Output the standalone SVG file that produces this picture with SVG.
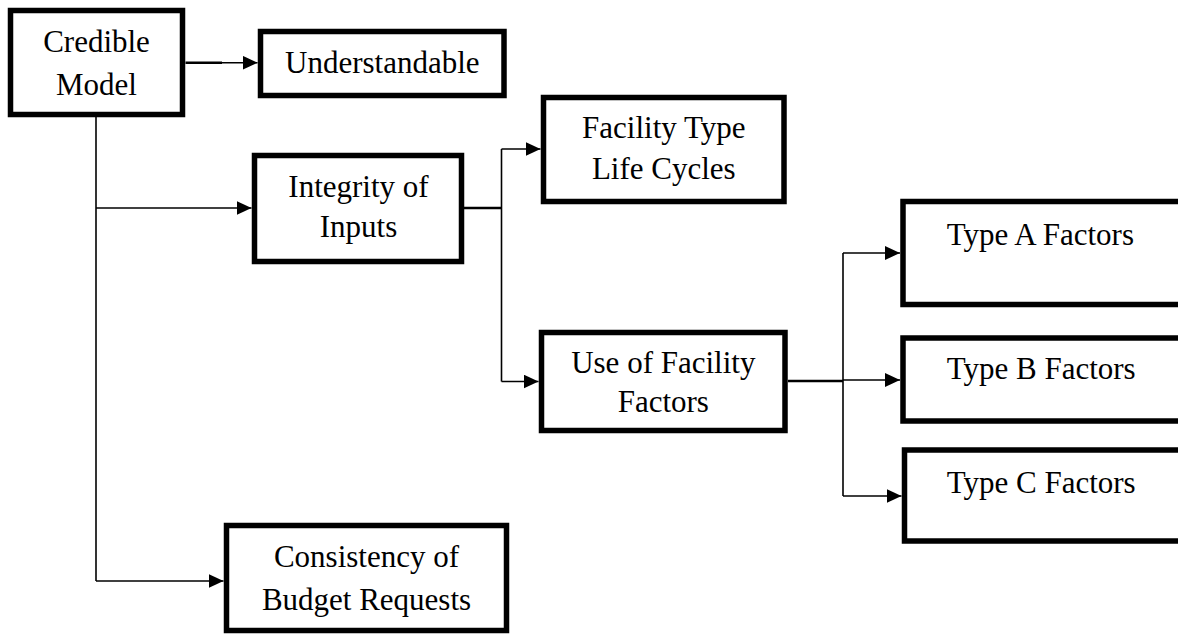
<svg xmlns="http://www.w3.org/2000/svg" width="1178" height="636" viewBox="0 0 1178 636">
  <style>
    .box { fill: #ffffff; stroke: #000000; stroke-width: 5.5; }
    .lbl { font-family: "Liberation Serif", "Times New Roman", serif; font-size: 31px; fill: #000000; }
    .mid { text-anchor: middle; }
    .wire { fill: none; stroke: #000000; stroke-width: 1.6; }
    .stub { fill: none; stroke: #000000; stroke-width: 2.4; }
  </style>
  <defs>
    <marker id="arrow" viewBox="0 0 15 14" refX="15" refY="7" markerWidth="15" markerHeight="14" markerUnits="userSpaceOnUse" orient="auto">
      <polygon points="0,0 15,7 0,14" fill="#000000"/>
    </marker>
  </defs>
  <rect width="1178" height="636" fill="#ffffff"/>

  <!-- connectors -->
  <g id="connectors">
    <!-- Credible Model to Understandable -->
    <path class="stub" d="M185.5,62.7 H222"/>
    <path class="wire" d="M221,62.7 H257.5" marker-end="url(#arrow)"/>
    <!-- Credible Model trunk -->
    <path class="wire" d="M96,117 V581"/>
    <path class="wire" d="M96,208 H251.5" marker-end="url(#arrow)"/>
    <path class="wire" d="M96,581 H223.5" marker-end="url(#arrow)"/>
    <!-- Integrity of Inputs branches -->
    <path class="stub" d="M464,208 H501.5"/>
    <path class="wire" d="M501.5,149 V381.5"/>
    <path class="wire" d="M501.5,149 H540.5" marker-end="url(#arrow)"/>
    <path class="wire" d="M501.5,381.5 H538.5" marker-end="url(#arrow)"/>
    <!-- Use of Facility Factors branches -->
    <path class="stub" d="M788,381 H843"/>
    <path class="wire" d="M843,253 V496"/>
    <path class="wire" d="M843,253 H900" marker-end="url(#arrow)"/>
    <path class="wire" d="M843,380 H900" marker-end="url(#arrow)"/>
    <path class="wire" d="M843,496 H901.5" marker-end="url(#arrow)"/>
  </g>

  <g id="credible-model">
    <rect class="box" x="10.5" y="10.5" width="172" height="104"/>
    <text class="lbl mid" x="96.5" y="52">Credible</text>
    <text class="lbl mid" x="96.5" y="95">Model</text>
  </g>

  <g id="understandable">
    <rect class="box" x="260.5" y="31.5" width="243.5" height="64"/>
    <text class="lbl mid" x="382.3" y="72.7">Understandable</text>
  </g>

  <g id="integrity-of-inputs">
    <rect class="box" x="254.5" y="155.5" width="207" height="106"/>
    <text class="lbl mid" x="358.5" y="197.3">Integrity of</text>
    <text class="lbl mid" x="358.5" y="237">Inputs</text>
  </g>

  <g id="facility-type-life-cycles">
    <rect class="box" x="543.5" y="97.5" width="240.5" height="104"/>
    <text class="lbl mid" x="663.8" y="138">Facility Type</text>
    <text class="lbl mid" x="663.8" y="179">Life Cycles</text>
  </g>

  <g id="use-of-facility-factors">
    <rect class="box" x="541.5" y="332.5" width="243.5" height="98"/>
    <text class="lbl mid" x="663.3" y="373">Use of Facility</text>
    <text class="lbl mid" x="663.3" y="411.7">Factors</text>
  </g>

  <g id="type-a-factors">
    <rect class="box" x="903" y="201.5" width="300" height="103"/>
    <text class="lbl" x="946.7" y="245">Type A Factors</text>
  </g>

  <g id="type-b-factors">
    <rect class="box" x="903" y="338" width="300" height="83"/>
    <text class="lbl" x="946.7" y="379">Type B Factors</text>
  </g>

  <g id="type-c-factors">
    <rect class="box" x="904.5" y="450" width="300" height="91"/>
    <text class="lbl" x="946.7" y="492.5">Type C Factors</text>
  </g>

  <g id="consistency-of-budget-requests">
    <rect class="box" x="226.5" y="525.5" width="280" height="105"/>
    <text class="lbl mid" x="366.5" y="566.7">Consistency of</text>
    <text class="lbl mid" x="366.5" y="610">Budget Requests</text>
  </g>
</svg>
